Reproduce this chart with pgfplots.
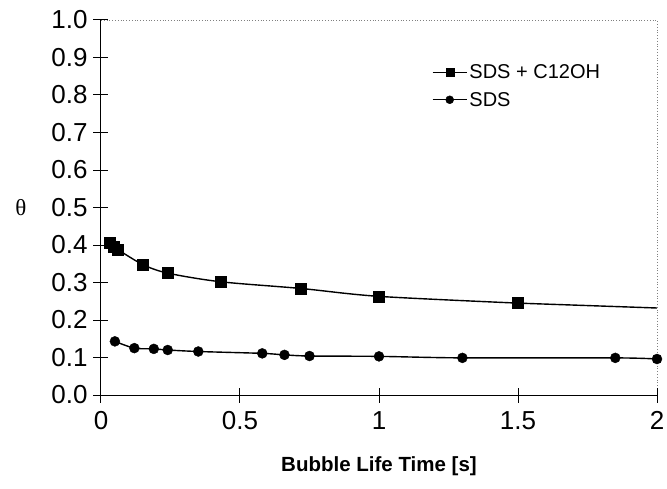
\documentclass[border=0pt]{standalone}
\usepackage{pgfplots}
\pgfplotsset{compat=1.18}
\usepackage{fontspec}
\setmainfont{Liberation Sans}
\newfontfamily\serif{Liberation Serif}

\begin{document}
\begin{tikzpicture}
\begin{axis}[
  scale only axis,
  width=556pt, height=375pt,
  xmin=0, xmax=2, ymin=0, ymax=1,
  separate axis lines,
  x axis line style={draw=none},
  y axis line style={draw=none},
  xtick pos=left, ytick pos=left,
  xtick={0,0.5,1,1.5,2},
  ytick={0,0.1,...,1.0},
  yticklabel style={/pgf/number format/fixed, /pgf/number format/fixed zerofill,
    /pgf/number format/precision=1, xshift=-10pt},
  /pgf/number format/assume math mode=true,
  major tick length=0pt,
  ticklabel style={font=\fontsize{26}{29}\selectfont},
  xticklabel style={yshift=-13pt},
  xlabel={\textbf{Bubble Life Time [s]}},
  xlabel style={font=\fontsize{20.5}{24}\selectfont, yshift=-20pt},
  ylabel={{\serif θ}},
  ylabel style={rotate=-90, font=\fontsize{23}{25}\selectfont, at={(rel axis cs:0,0.5)}, anchor=center, xshift=-80pt},
  legend style={draw=none, fill=none, at={(0.595,0.887)}, anchor=north west,
    font=\fontsize{20}{23}\selectfont, row sep=8pt, inner sep=0pt},
  legend image code/.code={
    \draw[#1, mark size=4pt, mark repeat=2, mark phase=2] plot coordinates {(0pt,0pt) (17pt,0pt) (34pt,0pt)};},
  legend cell align=left,
  clip=false,
]
\addplot[black, line width=1.4pt, smooth, mark=square*, mark size=5.5pt, mark options={solid, line width=0.4pt}]
  coordinates {(0.03,0.405) (0.045,0.395) (0.06,0.388) (0.15,0.348) (0.24,0.325)
    (0.43,0.302) (0.72,0.284) (1.0,0.263) (1.5,0.245)};
\addlegendentry{SDS + C12OH}
\addplot[black, line width=1.4pt, smooth, mark=*, mark size=5pt, mark options={solid, line width=0.4pt}]
  coordinates {(0.05,0.143) (0.12,0.125) (0.19,0.123) (0.24,0.12) (0.35,0.116)
    (0.58,0.111) (0.66,0.107) (0.75,0.104) (1.0,0.103) (1.3,0.099) (1.85,0.099) (2.0,0.096)};
\addlegendentry{SDS}
\addplot[black, line width=1.4pt, forget plot] coordinates {(1.5,0.245) (2.0,0.232)};
\draw[gray, dotted, line width=0.8pt] (rel axis cs:0,1) -- (rel axis cs:1,1) -- (rel axis cs:1,0);
\draw[black, line width=1pt] (rel axis cs:0,1) -- (rel axis cs:0,0) -- (rel axis cs:1,0);
% tick marks crossing the axis lines
\pgfplotsinvokeforeach{0,0.5,1,1.5,2}{
  \draw[black, line width=1pt] ([yshift=-7.5pt]axis cs:#1,0) -- ([yshift=7.5pt]axis cs:#1,0);}
\pgfplotsinvokeforeach{0,0.1,0.2,0.3,0.4,0.5,0.6,0.7,0.8,0.9,1.0}{
  \draw[black, line width=1pt] ([xshift=-7.5pt]axis cs:0,#1) -- ([xshift=7.5pt]axis cs:0,#1);}
\end{axis}
\pgfresetboundingbox
\path (-101pt,-93pt) rectangle (566pt,395pt);
\end{tikzpicture}
\end{document}
